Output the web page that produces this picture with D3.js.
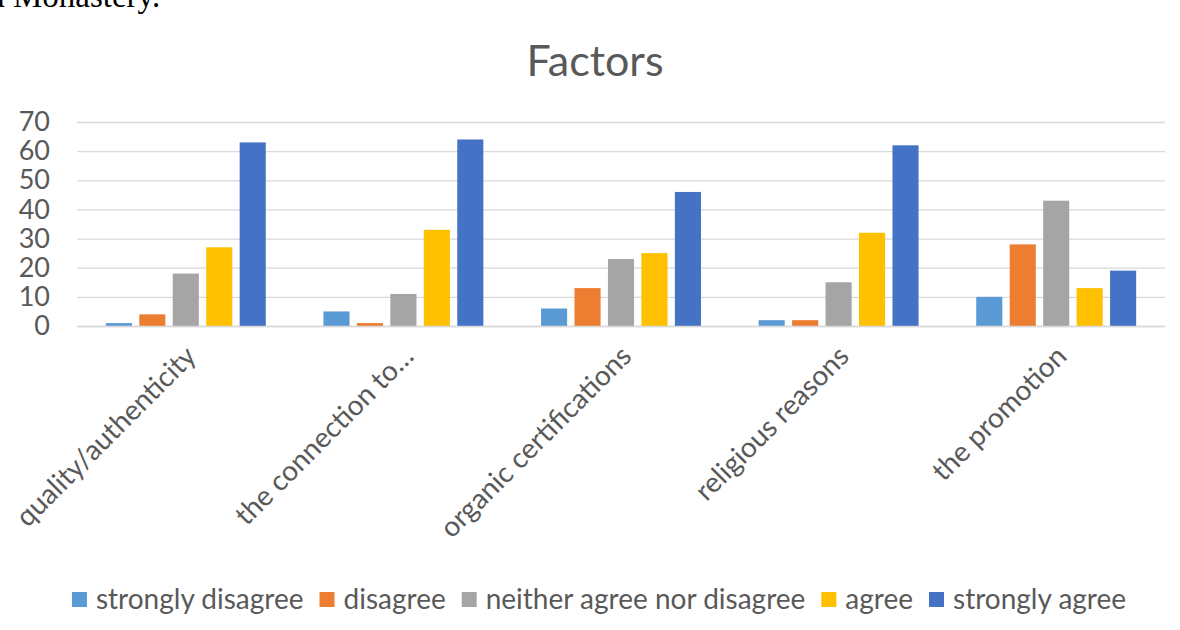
<!DOCTYPE html>
<html>
<head>
<meta charset="utf-8">
<script src="https://cdn.jsdelivr.net/npm/d3@7"></script>
<style>
  body { margin: 0; background: #fff; }
  svg { display: block; }
</style>
</head>
<body>
<svg id="chart" width="1180" height="630"></svg>
<script>
var categories = ["quality/authenticity", "the connection to\u2026", "organic certifications", "religious reasons", "the promotion"];
var seriesNames = ["strongly disagree", "disagree", "neither agree nor disagree", "agree", "strongly agree"];
var seriesColors = ["#5b9bd5", "#ed7d31", "#a5a5a5", "#ffc000", "#4472c4"];
var stronglyDisagree = [1, 5, 6, 2, 10];
var disagree = [4, 1, 13, 2, 28];
var neither = [18, 11, 23, 15, 43];
var agree = [27, 33, 25, 32, 13];
var stronglyAgree = [63, 64, 46, 62, 19];
var yTicks = [0, 10, 20, 30, 40, 50, 60, 70];

var seriesValues = [stronglyDisagree, disagree, neither, agree, stronglyAgree];
var textColor = "#595959";
var gridColor = "#d9d9d9";
var fontFamily = "Lato, 'Open Sans', sans-serif";

var svg = d3.select("#chart");

// caption from the page above the chart, cut by the top edge as in the scan
svg.append("text")
    .attr("x", -10).attr("y", 7)
    .attr("font-family", "'Liberation Serif', serif")
    .attr("font-size", 33)
    .attr("fill", "#000")
    .text("a Monastery.");

var x0 = d3.scaleBand()
    .domain(categories)
    .range([77, 1165])
    .paddingInner(0.265)
    .paddingOuter(0.1325);

var x1 = d3.scaleBand()
    .domain(seriesNames)
    .range([0, x0.bandwidth()])
    .paddingInner(0.22);

var y = d3.scaleLinear().domain([0, 70]).range([326, 122]);

// title
svg.append("text")
    .attr("x", 595).attr("y", 76)
    .attr("text-anchor", "middle")
    .attr("font-family", fontFamily)
    .attr("font-size", 43)
    .attr("fill", textColor)
    .text("Factors");

// gridlines
var yAxis = d3.axisLeft(y).tickValues(yTicks).tickSize(-(1165 - 77)).tickPadding(27);
var gy = svg.append("g").attr("transform", "translate(77,0)").call(yAxis);
gy.select(".domain").remove();
gy.selectAll(".tick line").attr("stroke", gridColor).attr("stroke-width", 1.3);
gy.selectAll(".tick text")
    .attr("font-family", fontFamily)
    .attr("font-size", 27)
    .attr("fill", textColor);

// bars
var groups = svg.append("g").selectAll("g")
    .data(categories)
    .enter().append("g")
    .attr("transform", function (d) { return "translate(" + x0(d) + ",0)"; });

groups.selectAll("rect")
    .data(function (d, i) {
        return seriesNames.map(function (s, j) {
            return { series: s, value: seriesValues[j][i], color: seriesColors[j] };
        });
    })
    .enter().append("rect")
    .attr("x", function (d) { return x1(d.series); })
    .attr("y", function (d) { return y(d.value); })
    .attr("width", x1.bandwidth())
    .attr("height", function (d) { return y(0) - y(d.value); })
    .attr("fill", function (d) { return d.color; });

// baseline + rotated category labels
var xAxis = d3.axisBottom(x0).tickSize(0).tickPadding(0);
var gx = svg.append("g").attr("transform", "translate(0,326)").call(xAxis);
gx.select(".domain").attr("stroke", gridColor).attr("stroke-width", 1.3);
gx.selectAll(".tick text")
    .attr("font-family", fontFamily)
    .attr("font-size", 28)
    .attr("fill", textColor)
    .attr("text-anchor", "end")
    .attr("dy", 0)
    .attr("transform", "translate(12,32) rotate(-45)");

// legend
var legend = svg.append("g");
var lx = 0;
seriesNames.forEach(function (name, i) {
    var item = legend.append("g").attr("transform", "translate(" + lx + ",0)");
    item.append("rect")
        .attr("x", 0).attr("y", -17)
        .attr("width", 15).attr("height", 15)
        .attr("fill", seriesColors[i]);
    var t = item.append("text")
        .attr("x", 24).attr("y", 0)
        .attr("font-family", fontFamily)
        .attr("font-size", 28)
        .attr("fill", textColor)
        .text(name);
    lx += 24 + t.node().getComputedTextLength() + 16;
});
legend.attr("transform", "translate(" + (599 - (lx - 16) / 2) + ",609)");
</script>
</body>
</html>
